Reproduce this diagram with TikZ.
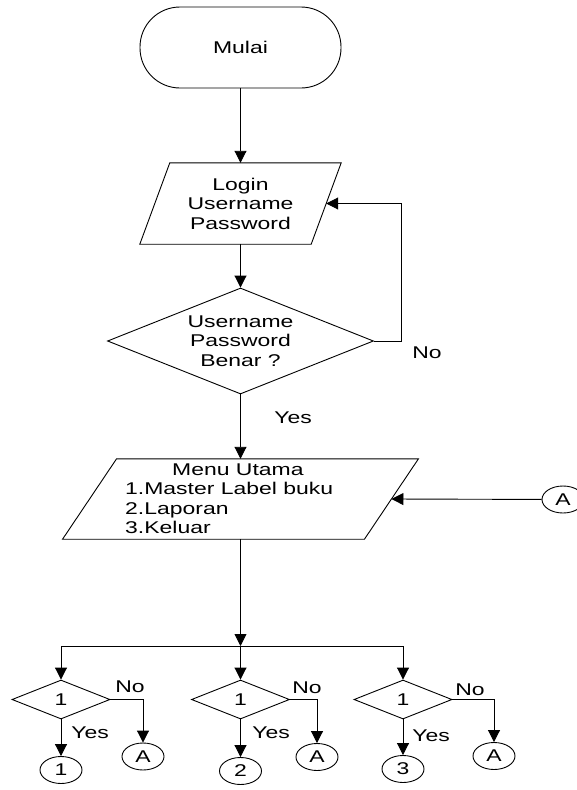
\documentclass[tikz,border=0pt]{standalone}
\usepackage{fontspec}
\setmainfont{Liberation Sans}[FakeStretch=1.35]
\usetikzlibrary{shapes.geometric,arrows.meta}

\begin{document}
\begin{tikzpicture}[x=1pt,y=-1pt,
  every node/.style={font=\fontsize{17}{19.5}\selectfont, inner sep=0pt},
  terminal/.style={draw, line width=0.9pt, rounded corners=40pt,
    minimum width=201pt, minimum height=81pt},
  iobox/.style={align=center},
  decision/.style={draw, line width=0.9pt, diamond, aspect=2.5, align=center},
  smalldec/.style={decision, minimum width=98pt, minimum height=39pt},
  conn/.style={draw, line width=0.9pt, ellipse, minimum width=42pt, minimum height=27pt},
  flow/.style={-{Triangle[width=12pt,length=12pt]}, line width=0.9pt},
  line/.style={line width=0.9pt, line join=miter}]

\useasboundingbox[fill=white] (0,0) rectangle (577,790);

% main column
\node[terminal] (start) at (240.5,47.5) {Mulai};

\node[iobox, minimum width=171pt, minimum height=81pt]
      (login) at (240.5,203.5) {Login\\Username\\Password};
\draw[line] ([xshift=15pt]login.north west) -- ([xshift=15pt]login.north east)
  -- ([xshift=-15pt]login.south east) -- ([xshift=-15pt]login.south west) -- cycle;

\node[decision, minimum width=266pt, minimum height=106pt]
      (check) at (240.5,341) {Username\\Password\\Benar ?};

\node[iobox, minimum width=301.5pt, minimum height=80pt]
      (menu) at (240.5,499) {};
\draw[line] ([xshift=27pt]menu.north west) -- ([xshift=27pt]menu.north east)
  -- ([xshift=-27pt]menu.south east) -- ([xshift=-27pt]menu.south west) -- cycle;
\node[anchor=west, align=left] (menutext) at (125,498.5)
      {\hspace*{47pt}Menu Utama\\1.Master Label buku\\2.Laporan\\3.Keluar};
\node[conn] (amenu) at (563,499.5) {A};

\node (nocheck) at (427,353) {No};
\node (yescheck) at (293,418) {Yes};

\draw[flow] (start) -- (login);
\draw[flow] (login) -- (check);
\draw[flow] (check.east) -- ++(27,0) |- (login.east);
\draw[flow] (check) -- (menu);
\draw[flow] (amenu) -- (menu.east);

% menu choices
\coordinate (split) at (240.5,646);
\draw[flow] (menu) -- (split);

\node[smalldec] (d1) at (61,699.5) {1};
\node[smalldec] (d2) at (240.5,699.5) {1};
\node[smalldec] (d3) at (403,699.5) {1};

\draw[flow] (split) -| (d1.north);
\draw[flow] (split) -- (d2.north);
\draw[flow] (split) -| (d3.north);

\node[conn] (c1) at (61,770) {1};
\node[conn] (c2) at (240.5,771) {2};
\node[conn] (c3) at (403,769) {3};

\node[conn] (a1) at (143,756.5) {A};
\node[conn] (a2) at (317,757) {A};
\node[conn] (a3) at (494,756) {A};

\draw[flow] (d1.south) -- (c1.north);
\draw[flow] (d2.south) -- (c2.north);
\draw[flow] (d3.south) -- (c3.north);

\draw[flow] (d1.east) -| (a1.north);
\draw[flow] (d2.east) -| (a2.north);
\draw[flow] (d3.east) -| (a3.north);

\node (no1) at (130,687) {No};
\node (no2) at (307,688) {No};
\node (no3) at (470,690) {No};
\node (yes1) at (90,733) {Yes};
\node (yes2) at (271,733) {Yes};
\node (yes3) at (431,736) {Yes};
\end{tikzpicture}
\end{document}
